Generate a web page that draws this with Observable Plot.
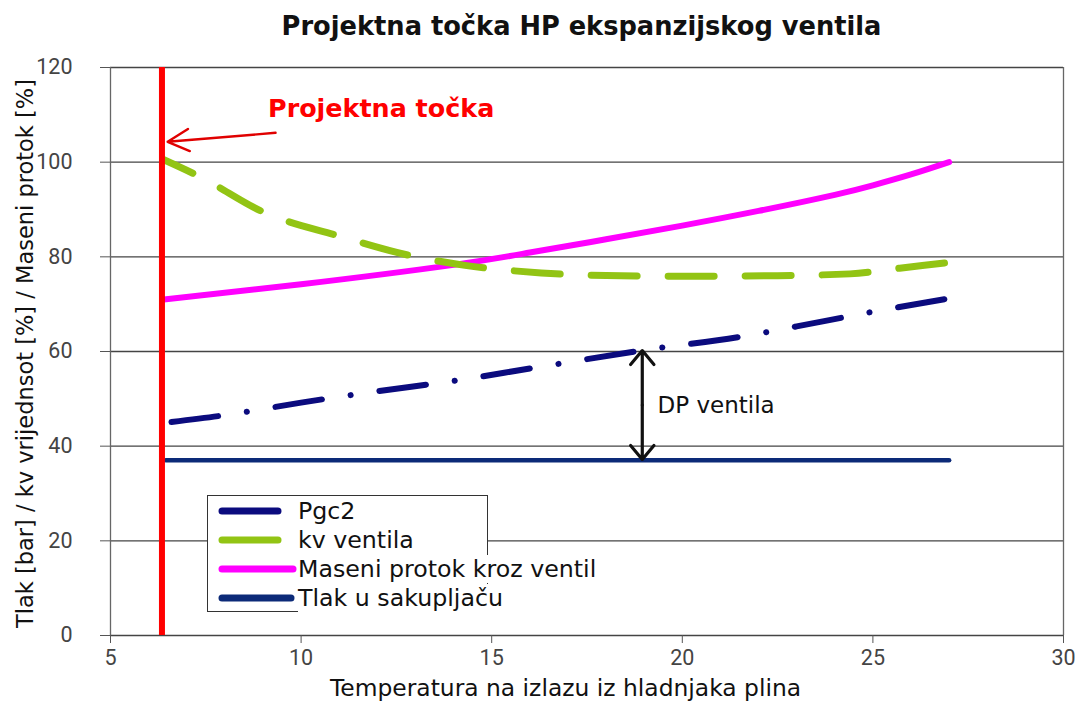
<!DOCTYPE html>
<html>
<head>
<meta charset="utf-8">
<script src="https://cdn.jsdelivr.net/npm/d3@7"></script>
<script src="https://cdn.jsdelivr.net/npm/@observablehq/plot@0.6"></script>
<style>
  html, body { margin: 0; padding: 0; background: #fff; }
  #wrap { position: relative; width: 1079px; height: 708px; overflow: hidden; font-family: "DejaVu Sans", sans-serif; }
  #title { position: absolute; left: 0; width: 1163px; top: 11px; text-align: center; font-weight: bold; font-size: 25.7px; color: #111; }
  #legend { position: absolute; left: 207px; top: 495px; width: 279px; height: 115px; border: 1.3px solid #333; background: #fff; }
  .row { position: absolute; left: 0; height: 28px; display: flex; align-items: center; white-space: nowrap; }
  .row span { background: #fff; font-size: 23.7px; color: #111; padding-right: 2px; line-height: 28px; }
  .row svg { display: block; }
</style>
</head>
<body>
<div id="wrap">
  <div id="title">Projektna točka HP ekspanzijskog ventila</div>
  <div id="chart"></div>
  <div id="legend"></div>
</div>
<script>
// ---- data ----
const xTicks = [5, 10, 15, 20, 25, 30];
const yTicks = [0, 20, 40, 60, 80, 100, 120];

const pgcX = [6.6, 8.05, 10, 12, 14, 16, 19, 21.6, 23, 25, 27];
const pgcY = [45.1, 46.6, 49.2, 51.6, 53.8, 56.4, 60.3, 63.2, 65.3, 68.4, 71.2];

const kvX = [6.4, 7.4, 9, 11, 12.9, 14.3, 16.3, 18.4, 20.5, 22.3, 24.4, 25.7, 27];
const kvY = [100.5, 96.7, 89.5, 84.4, 80.2, 78.2, 76.6, 76.0, 75.9, 76.0, 76.4, 77.6, 78.8];

const masX = [6.4, 10, 14, 16, 18, 20, 22, 24, 25, 26, 27];
const masY = [71.0, 74.2, 78.3, 80.9, 83.7, 86.6, 89.7, 93.1, 95.1, 97.4, 100.0];

const tlakX = [6.45, 27];
const tlakY = [37, 37];

const designX = 6.35;            // Projektna točka
const dpX = 18.95;               // DP ventila arrow position
const dpYmid = 48.7, dpY1 = 60.2, dpY2 = 37.2;
const noteArrow = {x1: 9.33, y1: 106.2, x2: 6.5, y2: 104.3};
const noteLabel = {x: 12.1, y: 111.3, text: "Projektna točka"};
const dpLabel = {x: 19.35, y: 48.5, text: "DP ventila"};

const series = [
  {name: "Pgc2", color: "#0b0b7e", width: 6, dash: "47,29,0.1,29", offset: 0, swatch: 56},
  {name: "kv ventila", color: "#92c414", width: 7, dash: "46,31", offset: 14, swatch: 56},
  {name: "Maseni protok kroz ventil", color: "#ff00ff", width: 6, dash: null, offset: 0, swatch: 71},
  {name: "Tlak u sakupljaču", color: "#0c2a78", width: 4.5, dash: null, offset: 0, swatch: 69}
];

const toRows = (xs, ys) => xs.map((x, i) => ({x, y: ys[i]}));

const chart = Plot.plot({
  width: 1079,
  height: 708,
  marginLeft: 110,
  marginRight: 16,
  marginTop: 67,
  marginBottom: 73,
  style: {fontFamily: "DejaVu Sans, sans-serif", background: "white"},
  x: {domain: [5, 30]},
  y: {domain: [0, 120]},
  marks: [
    Plot.ruleY(yTicks, {stroke: "#444", strokeWidth: 1.3}),
    Plot.ruleX([5, 30], {stroke: "#666", strokeWidth: 1.3}),
    Plot.axisX({ticks: xTicks, tickSize: 8, tickPadding: 6, fontSize: 21.5, stroke: "#555", color: "#444", label: null,
      fontFamily: "Liberation Sans Narrow, Roboto, sans-serif"}),
    Plot.axisY({ticks: yTicks, tickSize: 10, tickPadding: 28, fontSize: 21.5, stroke: "#555", color: "#444", label: null,
      fontFamily: "Liberation Sans Narrow, Roboto, sans-serif"}),
    Plot.text(["Temperatura na izlazu iz hladnjaka plina"], {frameAnchor: "bottom", dy: 60, dx: -21.5, fontSize: 23.4, fill: "#111"}),
    Plot.text(["Tlak [bar] / kv vrijednsot [%] / Maseni protok [%]"], {frameAnchor: "left", rotate: -90, textAnchor: "middle",
      dx: -85, dy: 2, fontSize: 22.5, fill: "#111"}),
    Plot.line(toRows(tlakX, tlakY), {x: "x", y: "y", stroke: series[3].color, strokeWidth: series[3].width}),
    Plot.line(toRows(pgcX, pgcY), {x: "x", y: "y", curve: "monotone-x", stroke: series[0].color, strokeWidth: series[0].width,
      strokeDasharray: series[0].dash, strokeLinecap: "round"}),
    Plot.line(toRows(masX, masY), {x: "x", y: "y", curve: "natural", stroke: series[2].color, strokeWidth: series[2].width}),
    Plot.line(toRows(kvX, kvY), {x: "x", y: "y", curve: "monotone-x", stroke: series[1].color, strokeWidth: series[1].width,
      strokeDasharray: series[1].dash, strokeDashoffset: series[1].offset, strokeLinecap: "round"}),
    Plot.ruleX([designX], {y1: 0, y2: 120, stroke: "#ff0000", strokeWidth: 6}),
    Plot.arrow([noteArrow], {x1: "x1", y1: "y1", x2: "x2", y2: "y2", stroke: "#e00000", strokeWidth: 2.4,
      headLength: 15, headAngle: 55, insetEnd: 0}),
    Plot.arrow([{x: dpX, y1: dpYmid, y2: dpY1}, {x: dpX, y1: dpYmid, y2: dpY2}], {x1: "x", x2: "x", y1: "y1", y2: "y2",
      stroke: "#111", strokeWidth: 3.2, headLength: 18, headAngle: 80, insetEnd: 0}),
    Plot.text([noteLabel], {x: "x", y: "y", text: "text", fill: "#ff0000", fontWeight: "bold", fontSize: 25.4}),
    Plot.text([dpLabel], {x: "x", y: "y", text: "text", fill: "#111", fontSize: 23, textAnchor: "start"})
  ]
});
document.getElementById("chart").appendChild(chart);

// ---- legend ----
const legend = document.getElementById("legend");
series.forEach((s, i) => {
  const row = document.createElement("div");
  row.className = "row";
  row.style.top = (1 + i * 29) + "px";
  const w = s.swatch;
  row.innerHTML = `<svg width="${90}" height="28"><line x1="14" y1="14" x2="${14 + w}" y2="14" stroke="${s.color}" stroke-width="7" stroke-linecap="round"/></svg><span>${s.name}</span>`;
  legend.appendChild(row);
});
</script>
</body>
</html>
